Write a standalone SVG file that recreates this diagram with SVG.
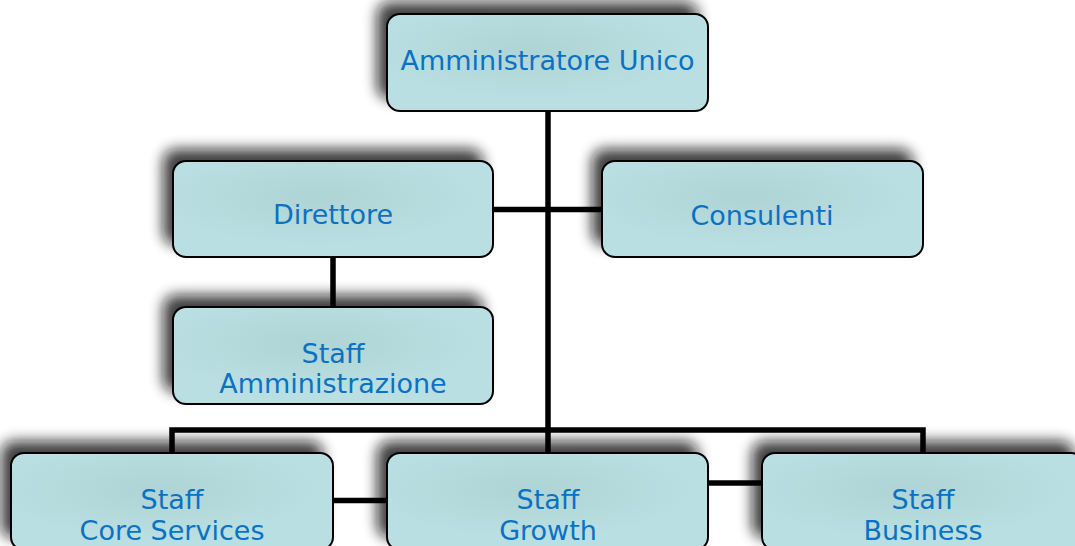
<svg xmlns="http://www.w3.org/2000/svg" width="1075" height="546" viewBox="0 0 1075 546">
  <defs>
    <filter id="soft-shadow" x="-30%" y="-60%" width="160%" height="220%">
      <feGaussianBlur stdDeviation="7"/>
    </filter>
    <radialGradient id="box-fill" cx="0.45" cy="0.38" r="0.5" fx="0.45" fy="0.38">
      <stop offset="0" stop-color="#afd4d5"/>
      <stop offset="1" stop-color="#b9dfe2"/>
    </radialGradient>
  </defs>
  <style>
    .shadow { fill: #111111; opacity: 0.8; filter: url(#soft-shadow); }
    .box { fill: url(#box-fill); stroke: #000; stroke-width: 2; }
    .label { font-family: "DejaVu Sans", Verdana, sans-serif; font-size: 27px; fill: #0a72c2; text-anchor: middle; }
    .link { fill: none; stroke: #000; stroke-width: 5.5; stroke-linecap: butt; stroke-linejoin: miter; }
  </style>

  <rect width="1075" height="546" fill="#ffffff"/>

  <!-- Top: sole administrator -->
  <g id="amministratore-unico">
    <rect class="shadow" x="377" y="2" width="321" height="97" rx="13"/>
    <rect class="box" x="387" y="14" width="321" height="97" rx="13"/>
    <text class="label" x="547.5" y="70">Amministratore Unico</text>
  </g>

  <g id="direttore">
    <rect class="shadow" x="163" y="149" width="320" height="96" rx="13"/>
    <rect class="box" x="173" y="161" width="320" height="96" rx="13"/>
    <text class="label" x="333" y="224">Direttore</text>
  </g>

  <g id="consulenti">
    <rect class="shadow" x="592" y="149" width="321" height="96" rx="13"/>
    <rect class="box" x="602" y="161" width="321" height="96" rx="13"/>
    <text class="label" x="762" y="225">Consulenti</text>
  </g>

  <g id="staff-amministrazione">
    <rect class="shadow" x="163" y="295" width="320" height="97" rx="13"/>
    <rect class="box" x="173" y="307" width="320" height="97" rx="13"/>
    <text class="label" x="333" y="363">Staff</text>
    <text class="label" x="333" y="393">Amministrazione</text>
  </g>

  <!-- Bottom row of staff units -->
  <g id="staff-core-services">
    <rect class="shadow" x="1" y="441" width="322" height="97" rx="13"/>
    <rect class="box" x="11" y="453" width="322" height="97" rx="13"/>
    <text class="label" x="172" y="509">Staff</text>
    <text class="label" x="172" y="540">Core Services</text>
  </g>

  <g id="staff-growth">
    <rect class="shadow" x="377" y="441" width="321" height="97" rx="13"/>
    <rect class="box" x="387" y="453" width="321" height="97" rx="13"/>
    <text class="label" x="548" y="509">Staff</text>
    <text class="label" x="548" y="540">Growth</text>
  </g>

  <g id="staff-business">
    <rect class="shadow" x="752" y="441" width="322" height="97" rx="13"/>
    <rect class="box" x="762" y="453" width="322" height="97" rx="13"/>
    <text class="label" x="923" y="509">Staff</text>
    <text class="label" x="923" y="540">Business</text>
  </g>

  <!-- Reporting lines -->
  <g id="connectors">
    <path class="link" d="M548 111 V430"/>
    <path class="link" d="M493 209.5 H602"/>
    <path class="link" d="M333 257 V307"/>
    <path class="link" d="M172 453 V430 H923 V453"/>
    <path class="link" d="M548 430 V453"/>
    <path class="link" d="M333 500.5 H387"/>
    <path class="link" d="M708 483 H762"/>
  </g>
</svg>
